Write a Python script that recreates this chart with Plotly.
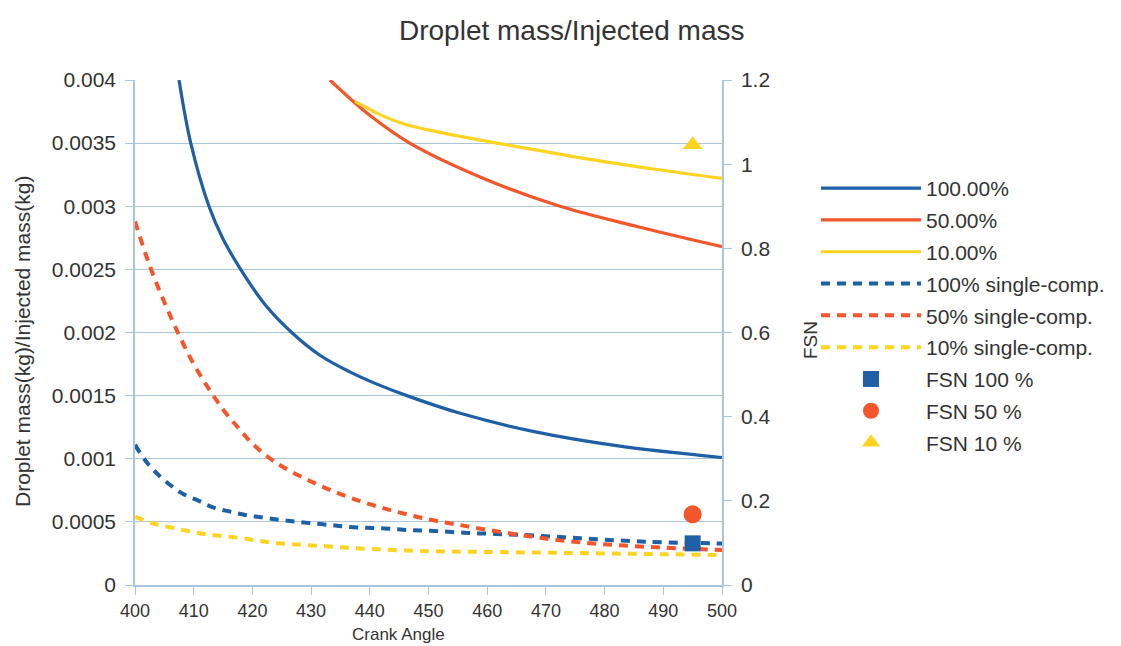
import plotly.graph_objects as go

# ---- data ----
crank_100 = [407.5, 409.5, 412.6, 415, 418, 422, 426.7, 431.5, 436.5, 441, 446.3, 455.4, 468, 482.6, 500]
mass_100 = [0.0040, 0.0035, 0.0030, 0.00274, 0.0025, 0.00223, 0.0020, 0.00182, 0.00169, 0.001595, 0.00150, 0.00136, 0.001215, 0.00110, 0.00101]

crank_50 = [433.2, 440, 446.8, 459.9, 472.4, 485.5, 500]
mass_50 = [0.0040, 0.00372, 0.0035, 0.00321, 0.0030, 0.00284, 0.00268]

crank_10 = [437.5, 442, 446, 452, 461.6, 469, 477, 488.3, 500]
mass_10 = [0.00383, 0.00372, 0.00365, 0.003585, 0.0035, 0.00344, 0.003375, 0.003295, 0.00322]

crank_sc100 = [400, 401.7, 403.7, 406, 408.2, 410.8, 413.3, 416.2, 418.8, 421.9, 424.7, 427.3, 430.1, 433.3, 436, 439, 441.8, 444.7, 447.5, 450.3, 456, 461.6, 467.3, 473, 478.6, 484.3, 490, 498.5, 500]
mass_sc100 = [0.00111, 0.00099, 0.000885, 0.000792, 0.000721, 0.000668, 0.000615, 0.000581, 0.000554, 0.000533, 0.000515, 0.000502, 0.000489, 0.000475, 0.000462, 0.000454, 0.000449, 0.000441, 0.000433, 0.00043, 0.000414, 0.000404, 0.000394, 0.000378, 0.000362, 0.000349, 0.000338, 0.00033, 0.000328]

crank_sc50 = [400, 402.5, 405, 407.5, 410, 412.5, 415, 417.5, 420, 422.5, 425, 430, 435, 440, 445, 450, 455, 460, 466, 471.5, 477, 482.6, 490, 500]
mass_sc50 = [0.00288, 0.00253, 0.00224, 0.00198, 0.00175, 0.00156, 0.00139, 0.00125, 0.00112, 0.00102, 0.00094, 0.00082, 0.00072, 0.00064, 0.000575, 0.00052, 0.000478, 0.000437, 0.000394, 0.000358, 0.000333, 0.000314, 0.000296, 0.000278]

crank_sc10 = [400, 403, 406, 409, 411.8, 414.7, 417.5, 420.3, 423, 426, 429, 435, 440, 450, 460, 470, 480, 490, 500]
mass_sc10 = [0.000541, 0.000489, 0.000457, 0.000428, 0.000404, 0.000388, 0.000375, 0.000356, 0.000338, 0.000325, 0.000317, 0.0003, 0.000285, 0.000268, 0.000262, 0.000256, 0.00025, 0.000244, 0.000238]

fsn_angle = [495]
fsn_100 = [0.099]
fsn_50 = [0.168]
fsn_10 = [1.046]

x_ticks = [400, 410, 420, 430, 440, 450, 460, 470, 480, 490, 500]
y_ticks = [0, 0.0005, 0.001, 0.0015, 0.002, 0.0025, 0.003, 0.0035, 0.004]
y_tick_labels = ["0", "0.0005", "0.001", "0.0015", "0.002", "0.0025", "0.003", "0.0035", "0.004"]
y2_ticks = [0, 0.2, 0.4, 0.6, 0.8, 1.0, 1.2]
y2_tick_labels = ["0", "0.2", "0.4", "0.6", "0.8", "1", "1.2"]

BLUE = "#1e5fa6"
ORANGE = "#f2562a"
YELLOW = "#ffd320"
GRID = "#a9c6de"
TXT = "#333333"
FONT = "Liberation Sans, Arial, sans-serif"
DASH = "9px,7px"

fig = go.Figure()

def line_trace(x, y, name, color, dash=None, width=3.2):
    return go.Scatter(x=x, y=y, mode="lines", name=name, legendgroup=name,
                      line=dict(color=color, width=width, dash=dash, shape="spline", smoothing=1.0))

fig.add_trace(line_trace(crank_100, mass_100, "100.00%", BLUE))
fig.add_trace(line_trace(crank_50, mass_50, "50.00%", ORANGE))
fig.add_trace(line_trace(crank_10, mass_10, "10.00%", YELLOW))
fig.add_trace(line_trace(crank_sc100, mass_sc100, "100% single-comp.", BLUE, DASH, 4))
fig.add_trace(line_trace(crank_sc50, mass_sc50, "50% single-comp.", ORANGE, DASH, 4))
fig.add_trace(line_trace(crank_sc10, mass_sc10, "10% single-comp.", YELLOW, DASH, 4))

fig.add_trace(go.Scatter(x=fsn_angle, y=fsn_100, mode="markers", name="FSN 100 %", legendgroup="f100",
                         yaxis="y2", marker=dict(symbol="square", color=BLUE, size=16)))
fig.add_trace(go.Scatter(x=fsn_angle, y=fsn_50, mode="markers", name="FSN 50 %", legendgroup="f50",
                         yaxis="y2", marker=dict(symbol="circle", color=ORANGE, size=18)))
fig.add_trace(go.Scatter(x=fsn_angle, y=fsn_10, mode="markers", name="FSN 10 %", legendgroup="f10",
                         yaxis="y2", marker=dict(symbol="triangle-up", color=YELLOW, size=17)))

W, H = 1113, 638   # page body adds an 8px margin
L, T = 127, 72
PW, PH = 587, 505

def px_x(page_x):
    return (page_x - 135) / PW

def px_y(page_y):
    return (585 - page_y) / PH

fig.update_layout(
    width=W, height=H,
    margin=dict(l=L, r=W - L - PW, t=T, b=H - T - PH, autoexpand=False),
    paper_bgcolor="white", plot_bgcolor="white",
    font=dict(family=FONT, size=18, color=TXT),
    showlegend=True,
    legend=dict(x=px_x(816), y=px_y(168), xanchor="left", yanchor="top",
                font=dict(size=21, color=TXT), bgcolor="rgba(0,0,0,0)",
                itemwidth=100, tracegroupgap=1.5, traceorder="grouped"),
    xaxis=dict(range=[400, 500], tickvals=x_ticks, showgrid=False, zeroline=False, automargin=False,
               showline=True, linecolor=GRID, linewidth=1.5, ticks="outside", ticklen=8,
               tickcolor=GRID, tickfont=dict(size=18, color=TXT), ticklabelstandoff=1),
    yaxis=dict(range=[0, 0.004], tickvals=y_ticks, ticktext=y_tick_labels, automargin=False,
               showgrid=True, gridcolor=GRID, gridwidth=1.2, zeroline=False,
               showline=True, linecolor=GRID, linewidth=1.5, ticks="outside", ticklen=8,
               tickcolor=GRID, tickfont=dict(size=21, color=TXT), ticklabelstandoff=5),
    yaxis2=dict(range=[0, 1.2], tickvals=y2_ticks, ticktext=y2_tick_labels, overlaying="y",
                side="right", showgrid=False, zeroline=False, showline=True, linecolor=GRID,
                automargin=False, linewidth=1.5, ticks="outside", ticklen=8, tickcolor=GRID,
                tickfont=dict(size=21, color=TXT), ticklabelstandoff=5),
    annotations=[
        dict(text="Droplet mass/Injected mass", xref="paper", yref="paper", x=px_x(571),
             y=px_y(31), xanchor="center", yanchor="middle", showarrow=False,
             font=dict(size=28, color=TXT)),
        dict(text="Droplet mass(kg)/Injected mass(kg)", xref="paper", yref="paper", x=px_x(22),
             y=px_y(342), xanchor="center", yanchor="middle", textangle=-90, showarrow=False,
             font=dict(size=21, color=TXT)),
        dict(text="FSN", xref="paper", yref="paper", x=px_x(810), y=px_y(340),
             xanchor="center", yanchor="middle", textangle=-90, showarrow=False,
             font=dict(size=19, color=TXT)),
        dict(text="Crank Angle", xref="paper", yref="paper", x=px_x(398), y=px_y(634),
             xanchor="center", yanchor="middle", showarrow=False,
             font=dict(size=17, color=TXT)),
    ],
)

fig.write_html("out.html")
